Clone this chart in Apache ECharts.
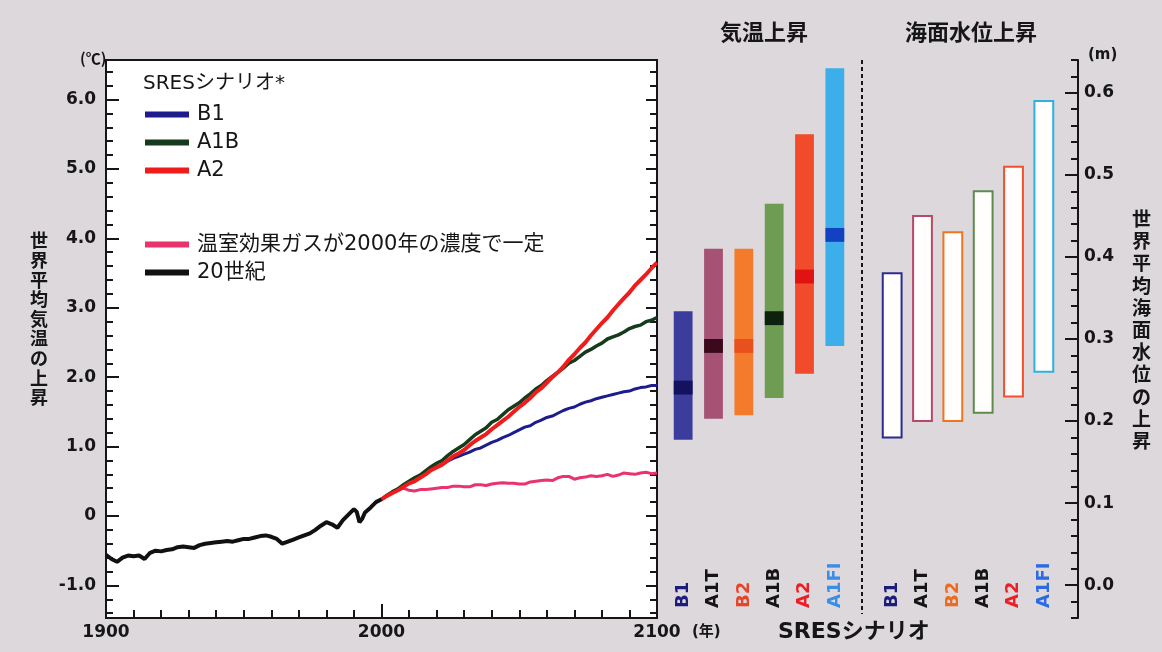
<!DOCTYPE html>
<html>
<head>
<meta charset="utf-8">
<script src="https://cdn.jsdelivr.net/npm/echarts@6/dist/echarts.min.js"></script>
<style>
  html, body { margin: 0; padding: 0; background: #dcd8dc; }
  #chart { width: 1162px; height: 652px; }
</style>
</head>
<body>
<div id="chart"></div>
<script>
// ---- 20th-century warming (°C) ----
const histYears = [1900,1902,1904,1906,1908,1910,1912,1914,1916,1918,1920,1922,1924,1926,1928,1930,1932,1934,1936,1938,1940,1942,1944,1946,1948,1950,1952,1954,1956,1958,1960,1962,1964,1966,1968,1970,1972,1974,1976,1978,1980,1982,1984,1986,1988,1990,1991,1992,1993,1994,1996,1998,2000];
const histTemp = [-0.56,-0.62,-0.66,-0.60,-0.57,-0.58,-0.57,-0.62,-0.53,-0.50,-0.51,-0.49,-0.48,-0.45,-0.44,-0.45,-0.46,-0.42,-0.40,-0.39,-0.38,-0.37,-0.36,-0.37,-0.35,-0.33,-0.33,-0.31,-0.29,-0.28,-0.30,-0.33,-0.40,-0.37,-0.34,-0.31,-0.28,-0.25,-0.20,-0.14,-0.09,-0.12,-0.17,-0.06,0.02,0.10,0.06,-0.09,-0.04,0.05,0.12,0.20,0.24];

// ---- 21st-century projections (°C), every 2 years 2000–2100 ----
const futureYears = [];
for (let y = 2000; y <= 2100; y += 2) futureYears.push(y);
const a2Temp = [0.24,0.29,0.33,0.37,0.42,0.47,0.50,0.55,0.60,0.66,0.70,0.74,0.80,0.86,0.90,0.95,1.02,1.08,1.13,1.18,1.25,1.31,1.37,1.43,1.50,1.57,1.63,1.70,1.78,1.84,1.92,2.00,2.07,2.15,2.25,2.33,2.42,2.50,2.60,2.69,2.78,2.86,2.96,3.05,3.14,3.22,3.32,3.40,3.48,3.57,3.65];
const a1bTemp = [0.24,0.30,0.35,0.39,0.45,0.50,0.55,0.59,0.65,0.71,0.76,0.80,0.87,0.93,0.98,1.03,1.10,1.17,1.22,1.27,1.35,1.39,1.46,1.53,1.58,1.63,1.70,1.76,1.83,1.88,1.95,2.01,2.07,2.13,2.20,2.24,2.30,2.36,2.40,2.45,2.49,2.55,2.58,2.61,2.65,2.70,2.73,2.75,2.80,2.82,2.86];
const b1Temp = [0.24,0.29,0.34,0.39,0.44,0.48,0.53,0.57,0.62,0.67,0.71,0.74,0.79,0.83,0.86,0.89,0.92,0.96,0.98,1.02,1.06,1.09,1.13,1.16,1.20,1.24,1.28,1.30,1.35,1.38,1.42,1.44,1.48,1.52,1.55,1.57,1.61,1.64,1.66,1.69,1.71,1.73,1.75,1.77,1.79,1.80,1.83,1.85,1.86,1.88,1.88];
const constTemp = [0.24,0.29,0.34,0.38,0.40,0.37,0.36,0.38,0.38,0.39,0.40,0.41,0.41,0.43,0.43,0.42,0.42,0.45,0.45,0.44,0.46,0.47,0.48,0.47,0.47,0.46,0.46,0.49,0.50,0.51,0.52,0.51,0.55,0.57,0.57,0.53,0.55,0.56,0.58,0.57,0.58,0.60,0.57,0.59,0.62,0.61,0.60,0.62,0.63,0.61,0.62];

// ---- SRES scenario ranges at 2100 ----
const scenarios = ['B1','A1T','B2','A1B','A2','A1FI'];
const tempLow  = [1.10,1.40,1.45,1.70,2.05,2.45];
const tempHigh = [2.95,3.85,3.85,4.50,5.50,6.45];
const tempBest = [1.85,2.45,2.45,2.85,3.45,4.05];
const seaLow   = [0.18,0.20,0.20,0.21,0.23,0.26];
const seaHigh  = [0.38,0.45,0.43,0.48,0.51,0.59];

// ---- tick labels ----
const tempMajor = [-1,0,1,2,3,4,5,6];
const yearLabels = [1900,2000,2100];
const seaMajor = [0,0.1,0.2,0.3,0.4,0.5,0.6];

const tempMinor = [];
for (let k = -7; k <= 32; k++) tempMinor.push(+(k * 0.2).toFixed(1));
const seaMinor = [];
for (let k = -2; k <= 32; k++) seaMinor.push(+(k * 0.02).toFixed(2));
const decades = [];
for (let y = 1910; y <= 2090; y += 10) decades.push(y);

const NUM = '"DejaVu Sans", "Noto Sans CJK JP", sans-serif';
const JP = '"DejaVu Sans", "Noto Sans CJK JP", sans-serif';
const CJK = '"Noto Sans CJK JP", sans-serif';
const INK = '#161616';

const tempFill = ['#3c3c9c','#a65274','#f57b2c','#6e9c52','#f24b2b','#3caeea'];
const bestFill = ['#12125e','#3a0a1c','#e8501e','#0e200e','#e01212','#1242c2'];
const seaStroke = ['#2c2c8e','#b84868','#f0741e','#5e8a4e','#f0502c','#2cb2e2'];
const labelColor = ['#1c1c7c','#151515','#ea4428','#151515','#ec1e26','#3a8ee6'];
const seaLabelColor = ['#1c1c7c','#151515','#ee6a1e','#151515','#ec1e26','#2a6ae4'];

const pairs = (xs, ys) => xs.map((x, i) => [x, ys[i]]);

const chart = echarts.init(document.getElementById('chart'));

// floating range bars (filled with a best-estimate band, or outlined)
function rangeBars(fills, best, stroke) {
  return function (params, api) {
    const i = api.value(0);
    const lo = api.coord([i, api.value(1)]);
    const hi = api.coord([i, api.value(2)]);
    const w = api.size([1, 0])[0] * 0.62;
    const children = [];
    if (stroke) {
      children.push({ type: 'rect', shape: { x: lo[0] - w / 2, y: hi[1], width: w, height: lo[1] - hi[1] },
        style: { fill: '#fffefc', stroke: stroke[i], lineWidth: 2 } });
    } else {
      children.push({ type: 'rect', shape: { x: lo[0] - w / 2, y: hi[1], width: w, height: lo[1] - hi[1] },
        style: { fill: fills[i] } });
      const b0 = api.coord([i, api.value(3) - 0.1]);
      const b1 = api.coord([i, api.value(3) + 0.1]);
      children.push({ type: 'rect', shape: { x: lo[0] - w / 2, y: b1[1], width: w, height: b0[1] - b1[1] },
        style: { fill: best[i] } });
    }
    return { type: 'group', children };
  };
}

const catAxis = (grid, colors) => ({
  type: 'category', gridIndex: grid, data: scenarios,
  axisLine: { show: false }, axisTick: { show: false }, splitLine: { show: false },
  axisLabel: {
    inside: true, rotate: 90, margin: 10, fontSize: 18, fontWeight: 'bold', fontFamily: NUM,
    color: (v, i) => colors[i]
  }
});

const tickAxis = (pos, len, values) => ({
  type: 'value', gridIndex: 0, min: -1.47, max: 6.57, position: pos,
  axisLine: { show: false },
  axisTick: { show: true, inside: true, length: len, customValues: values, lineStyle: { color: INK, width: 2 } },
  axisLabel: { show: false }, splitLine: { show: false }
});

const legendText = { fontSize: 21, lineHeight: 21, color: INK, fontFamily: JP, padding: [0, 0, 0, 3] };

const option = {
  backgroundColor: '#dcd8dc',
  animation: false,
  grid: [
    { left: 106, top: 60, width: 551, height: 558, show: true, backgroundColor: '#ffffff', borderColor: INK, borderWidth: 2 },
    { left: 668, top: 60, width: 182, height: 558 },
    { left: 877, top: 60, width: 182, height: 558 }
  ],
  xAxis: [
    { type: 'value', gridIndex: 0, min: 1900, max: 2100, position: 'bottom',
      axisLine: { show: true, onZero: false, lineStyle: { color: INK, width: 2 } },
      axisTick: { show: true, inside: true, length: 8, customValues: decades, lineStyle: { color: INK, width: 2 } },
      axisLabel: { customValues: yearLabels, margin: 6, fontSize: 17, fontWeight: 'bold', color: INK, fontFamily: NUM,
        formatter: v => String(v) },
      splitLine: { show: false } },
    { type: 'value', gridIndex: 0, min: 1900, max: 2100, position: 'bottom',
      axisLine: { show: false, onZero: false },
      axisTick: { show: true, inside: true, length: 14, customValues: [2000], lineStyle: { color: INK, width: 2 } },
      axisLabel: { show: false }, splitLine: { show: false } },
    catAxis(1, labelColor),
    catAxis(2, seaLabelColor)
  ],
  yAxis: [
    { type: 'value', gridIndex: 0, min: -1.47, max: 6.57, position: 'left',
      axisLine: { show: true, lineStyle: { color: INK, width: 2 } },
      axisTick: { show: true, inside: true, length: 13, customValues: tempMajor, lineStyle: { color: INK, width: 2 } },
      axisLabel: { customValues: tempMajor, margin: 10, fontSize: 17, fontWeight: 'bold', color: INK, fontFamily: NUM,
        formatter: v => (v === 0 ? '0' : v.toFixed(1)) },
      splitLine: { show: false } },
    tickAxis('left', 7, tempMinor),
    tickAxis('right', 11, tempMajor),
    tickAxis('right', 7, tempMinor),
    { type: 'value', gridIndex: 1, min: -1.47, max: 6.57, show: false },
    { type: 'value', gridIndex: 2, min: -0.04, max: 0.64, position: 'right', offset: 19,
      axisLine: { show: true, lineStyle: { color: INK, width: 2 } },
      axisTick: { show: true, inside: true, length: 13, customValues: seaMajor, lineStyle: { color: INK, width: 2 } },
      axisLabel: { customValues: seaMajor, margin: 6, fontSize: 17, fontWeight: 'bold', color: INK, fontFamily: NUM,
        formatter: v => v.toFixed(1) },
      splitLine: { show: false } },
    { type: 'value', gridIndex: 2, min: -0.04, max: 0.64, position: 'right', offset: 19,
      axisLine: { show: false },
      axisTick: { show: true, inside: true, length: 7, customValues: seaMinor, lineStyle: { color: INK, width: 2 } },
      axisLabel: { show: false }, splitLine: { show: false } }
  ],
  legend: [
    { data: ['B1','A1B','A2'], orient: 'vertical', left: 145, top: 104, padding: 0,
      itemWidth: 44, itemHeight: 6, itemGap: 7, icon: 'rect', selectedMode: false, textStyle: legendText },
    { data: ['温室効果ガスが2000年の濃度で一定','20世紀'], orient: 'vertical', left: 145, top: 234, padding: 0,
      itemWidth: 44, itemHeight: 6, itemGap: 7, icon: 'rect', selectedMode: false, textStyle: legendText }
  ],
  series: [
    { name: '温室効果ガスが2000年の濃度で一定', type: 'line', xAxisIndex: 0, yAxisIndex: 0, data: pairs(futureYears, constTemp),
      showSymbol: false, color: '#e8336c', lineStyle: { width: 3 } },
    { name: 'B1', type: 'line', xAxisIndex: 0, yAxisIndex: 0, data: pairs(futureYears, b1Temp),
      showSymbol: false, color: '#1c1c8c', lineStyle: { width: 3 } },
    { name: 'A1B', type: 'line', xAxisIndex: 0, yAxisIndex: 0, data: pairs(futureYears, a1bTemp),
      showSymbol: false, color: '#163a1c', lineStyle: { width: 3.5 } },
    { name: 'A2', type: 'line', xAxisIndex: 0, yAxisIndex: 0, data: pairs(futureYears, a2Temp),
      showSymbol: false, color: '#f01c1c', lineStyle: { width: 4 } },
    { name: '20世紀', type: 'line', xAxisIndex: 0, yAxisIndex: 0, data: pairs(histYears, histTemp),
      showSymbol: false, color: '#111111', lineStyle: { width: 4 } },
    { name: 'tempRange', type: 'custom', xAxisIndex: 2, yAxisIndex: 4,
      data: scenarios.map((s, i) => [i, tempLow[i], tempHigh[i], tempBest[i]]),
      renderItem: rangeBars(tempFill, bestFill, null) },
    { name: 'seaRange', type: 'custom', xAxisIndex: 3, yAxisIndex: 5,
      data: scenarios.map((s, i) => [i, seaLow[i], seaHigh[i]]),
      renderItem: rangeBars(null, null, seaStroke) }
  ],
  graphic: [
    { type: 'text', left: 80, top: 51, style: { text: '(℃)', fontSize: 15, fontWeight: 'bold', fill: INK, fontFamily: CJK } },
    { type: 'text', left: 1088, top: 48, style: { text: '(m)', fontSize: 15, fontWeight: 'bold', fill: INK, fontFamily: NUM } },
    { type: 'text', left: 30, top: 233, style: { text: '世\n界\n平\n均\n気\n温\nの\n上\n昇', fontSize: 18, lineHeight: 19.6,
      fontWeight: 'bold', fill: INK, fontFamily: JP } },
    { type: 'text', left: 1132, top: 210, style: { text: '世\n界\n平\n均\n海\n面\n水\n位\nの\n上\n昇', fontSize: 19, lineHeight: 22.2,
      fontWeight: 'bold', fill: INK, fontFamily: JP } },
    { type: 'text', left: 720, top: 23, style: { text: '気温上昇', fontSize: 22, fontWeight: 'bold', fill: INK, fontFamily: JP } },
    { type: 'text', left: 905, top: 23, style: { text: '海面水位上昇', fontSize: 22, fontWeight: 'bold', fill: INK, fontFamily: JP } },
    { type: 'text', left: 692, top: 625, style: { text: '(年)', fontSize: 15, fontWeight: 'bold', fill: INK, fontFamily: JP } },
    { type: 'text', left: 778, top: 621, style: { text: 'SRESシナリオ', fontSize: 22, fontWeight: 'bold', fill: INK, fontFamily: JP } },
    { type: 'text', left: 143, top: 74, style: { text: 'SRESシナリオ*', fontSize: 20, fill: INK, fontFamily: JP } },
    { type: 'line', shape: { x1: 862, y1: 60, x2: 862, y2: 614 }, style: { stroke: INK, lineWidth: 2, lineDash: [4, 3] } }
  ]
};

chart.setOption(option);
</script>
</body>
</html>
